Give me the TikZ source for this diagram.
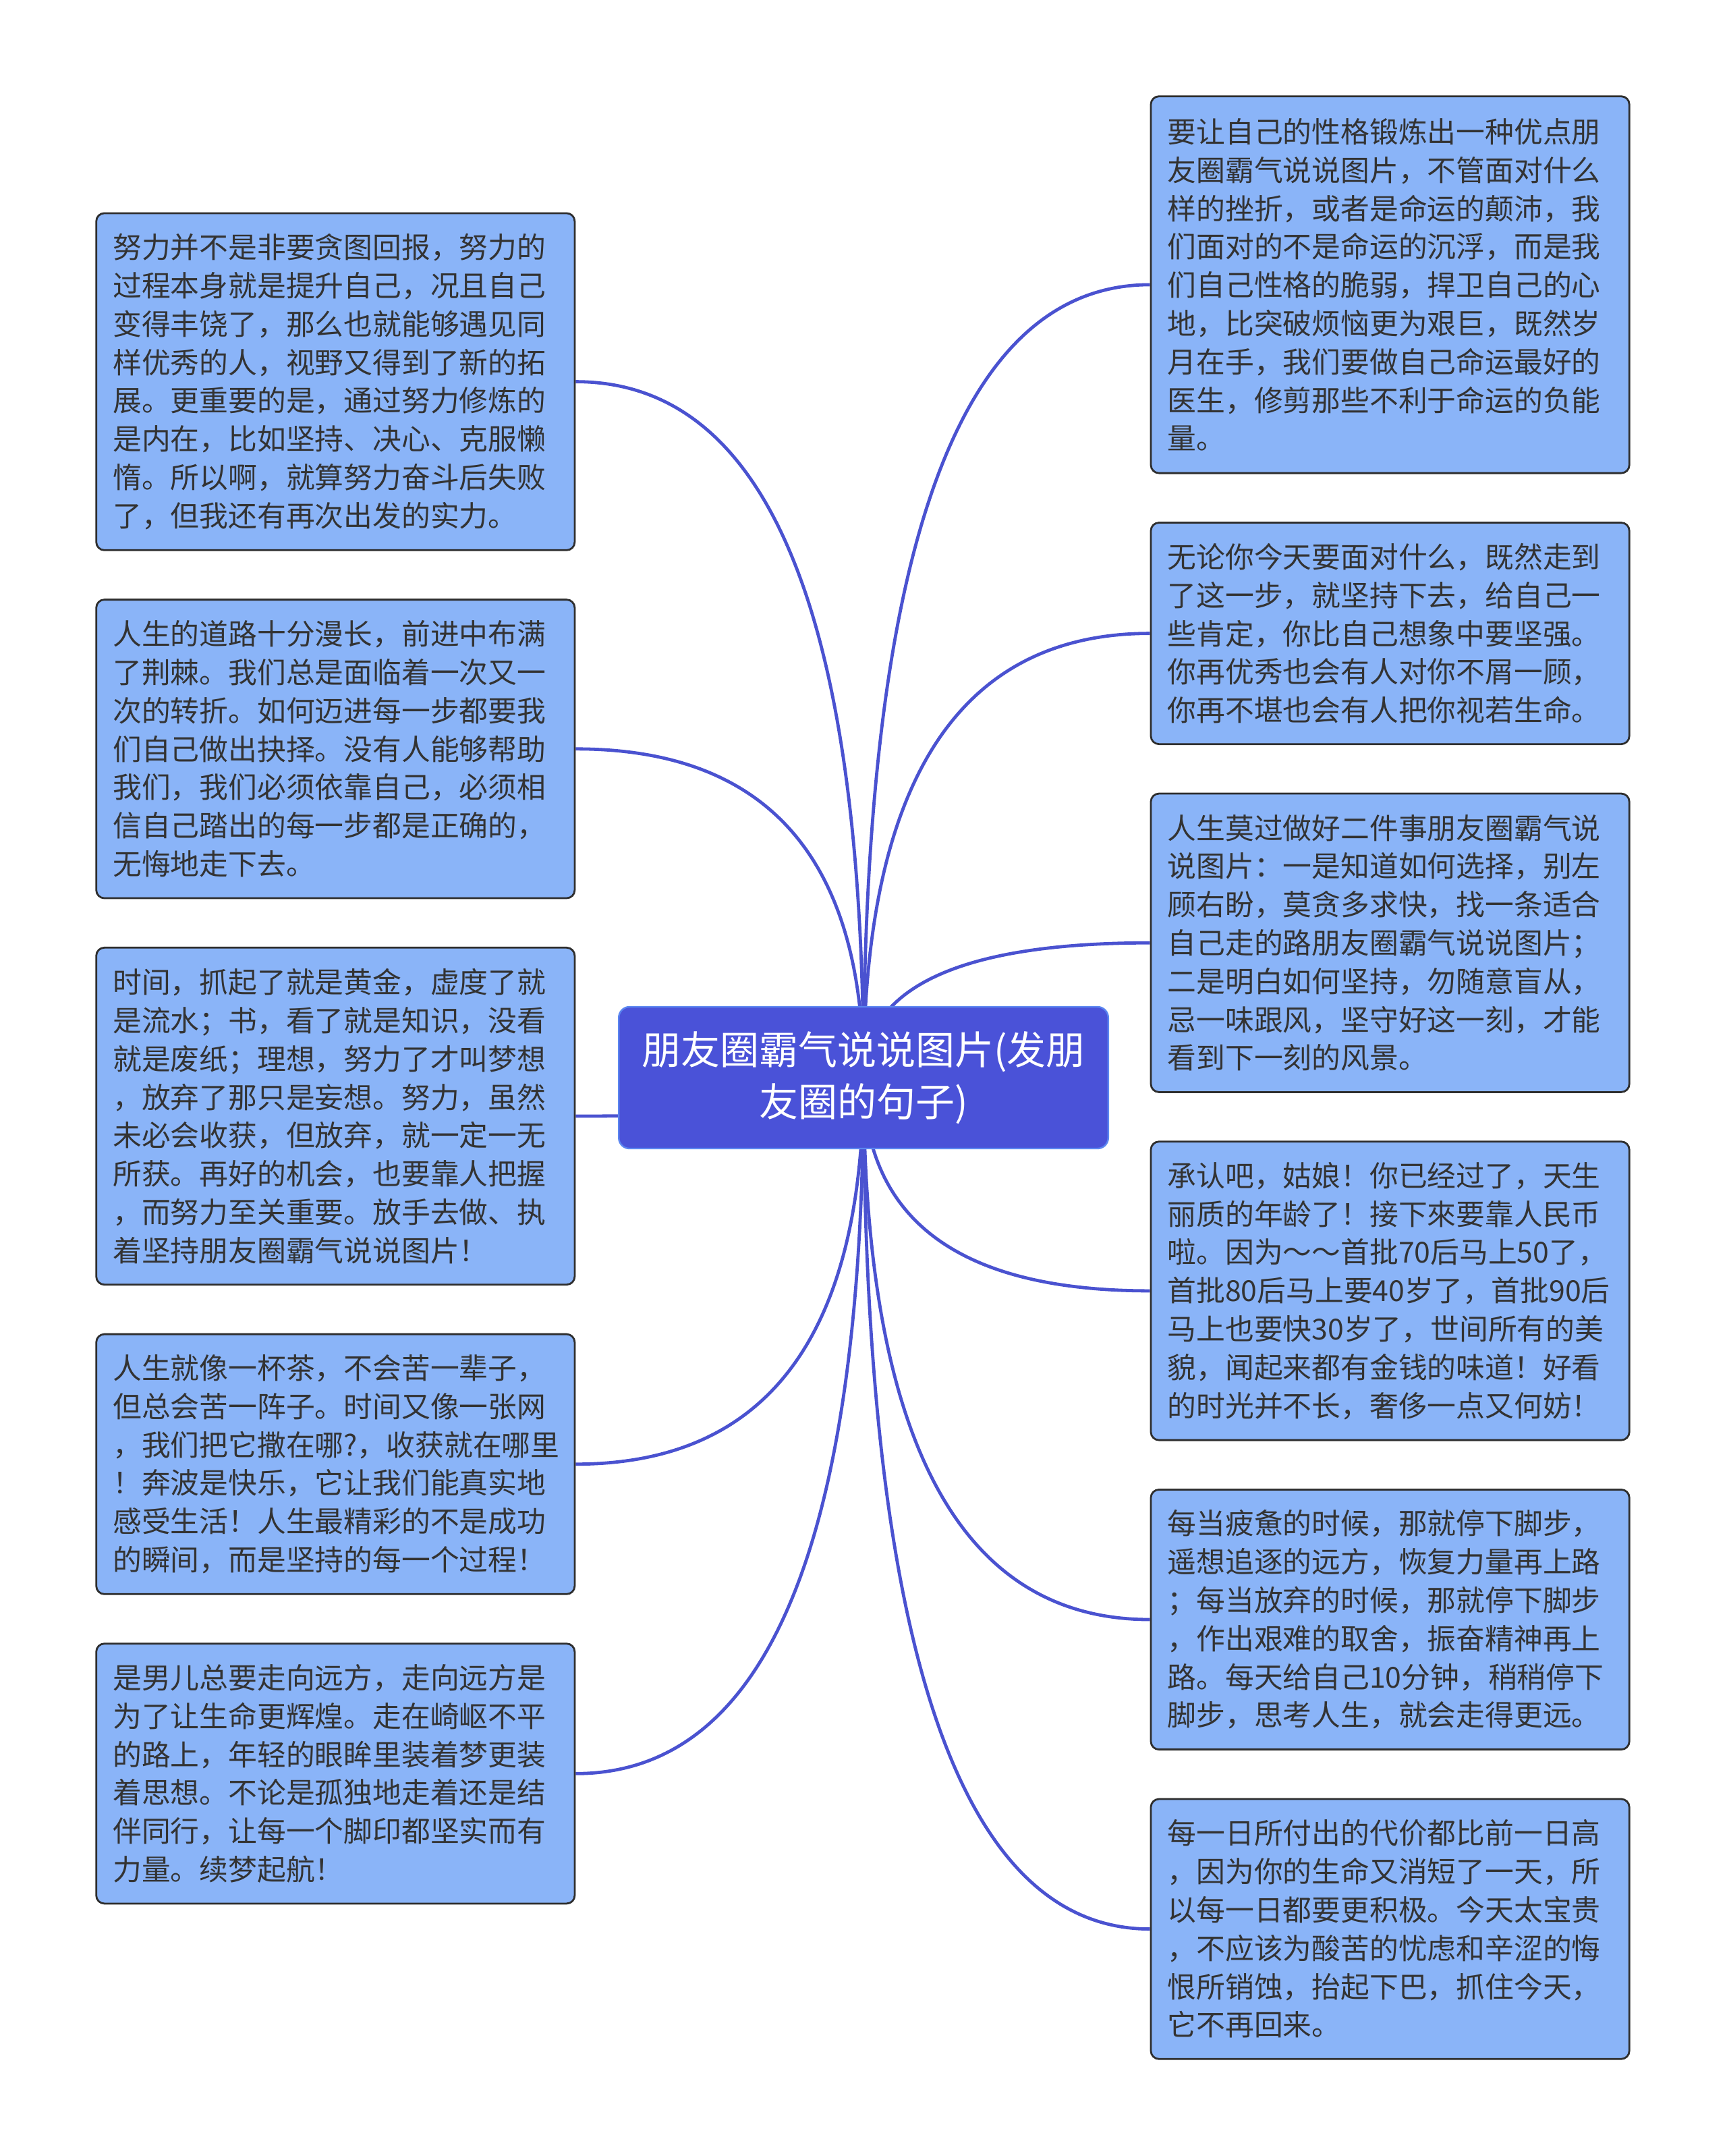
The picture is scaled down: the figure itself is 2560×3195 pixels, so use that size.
\documentclass[tikz,border=0pt]{standalone}
\usepackage{fontspec}
\newfontfamily\cjk{Noto Sans CJK SC}
\usetikzlibrary{calc}
\definecolor{leaffill}{HTML}{8AB4F8}
\definecolor{leafline}{HTML}{2E2E2E}
\definecolor{leaftext}{HTML}{333333}
\definecolor{rootfill}{HTML}{4A52D8}
\definecolor{rootline}{HTML}{5B86F0}
\definecolor{linkcol}{HTML}{4A52D0}
\pgfdeclarelayer{bg}
\pgfsetlayers{bg,main}
\begin{document}
\begin{tikzpicture}[x=0.25pt,y=-0.25pt,
  leaf/.style={draw=leafline, line width=0.7pt, fill=leaffill, rounded corners=3pt,
    text width=165pt, inner xsep=6.15pt, inner ysep=0pt, align=left, text=leaftext,
    font=\cjk\fontsize{10.7pt}{14.2pt}\selectfont},
  root/.style={draw=rootline, line width=0.6pt, fill=rootfill, rounded corners=4pt,
    minimum width=181.4pt, minimum height=52.5pt, align=center, text=white,
    font=\cjk\fontsize{14.5pt}{19.2pt}\selectfont},
  link/.style={draw=linkcol, line width=1.2pt}]
\useasboundingbox (0,0) rectangle (2560,3195);

\node[root] (c) at (1280,1597) {朋友圈霸气说说图片(发朋\\友圈的句子)};

\node[leaf, minimum height=124.85pt] (l1) at (497.3,565.6) {努力并不是非要贪图回报，努力的\\过程本身就是提升自己，况且自己\\变得丰饶了，那么也就能够遇见同\\样优秀的人，视野又得到了新的拓\\展。更重要的是，通过努力修炼的\\是内在，比如坚持、决心、克服懒\\惰。所以啊，就算努力奋斗后失败\\了，但我还有再次出发的实力。};
\node[leaf, minimum height=110.6pt] (l2) at (497.3,1109.8) {人生的道路十分漫长，前进中布满\\了荆棘。我们总是面临着一次又一\\次的转折。如何迈进每一步都要我\\们自己做出抉择。没有人能够帮助\\我们，我们必须依靠自己，必须相\\信自己踏出的每一步都是正确的，\\无悔地走下去。};
\node[leaf, minimum height=124.85pt] (l3) at (497.3,1654) {时间，抓起了就是黄金，虚度了就\\是流水；书，看了就是知识，没看\\就是废纸；理想，努力了才叫梦想\\，放弃了那只是妄想。努力，虽然\\未必会收获，但放弃，就一定一无\\所获。再好的机会，也要靠人把握\\，而努力至关重要。放手去做、执\\着坚持朋友圈霸气说说图片！};
\node[leaf, minimum height=96.3pt] (l4) at (497.3,2169.7) {人生就像一杯茶，不会苦一辈子，\\但总会苦一阵子。时间又像一张网\\，我们把它撒在哪?，收获就在哪里\\！奔波是快乐，它让我们能真实地\\感受生活！人生最精彩的不是成功\\的瞬间，而是坚持的每一个过程！};
\node[leaf, minimum height=96.3pt] (l5) at (497.3,2628.3) {是男儿总要走向远方，走向远方是\\为了让生命更辉煌。走在崎岖不平\\的路上，年轻的眼眸里装着梦更装\\着思想。不论是孤独地走着还是结\\伴同行，让每一个脚印都坚实而有\\力量。续梦起航！};

\node[leaf, minimum height=139.6pt] (r1) at (2060.6,421.9) {要让自己的性格锻炼出一种优点朋\\友圈霸气说说图片，不管面对什么\\样的挫折，或者是命运的颠沛，我\\们面对的不是命运的沉浮，而是我\\们自己性格的脆弱，捍卫自己的心\\地，比突破烦恼更为艰巨，既然岁\\月在手，我们要做自己命运最好的\\医生，修剪那些不利于命运的负能\\量。};
\node[leaf, minimum height=82.05pt] (r2) at (2060.6,938.6) {无论你今天要面对什么，既然走到\\了这一步，就坚持下去，给自己一\\些肯定，你比自己想象中要坚强。\\你再优秀也会有人对你不屑一顾，\\你再不堪也会有人把你视若生命。};
\node[leaf, minimum height=110.6pt] (r3) at (2060.6,1397.2) {人生莫过做好二件事朋友圈霸气说\\说图片：一是知道如何选择，别左\\顾右盼，莫贪多求快，找一条适合\\自己走的路朋友圈霸气说说图片；\\二是明白如何坚持，勿随意盲从，\\忌一味跟风，坚守好这一刻，才能\\看到下一刻的风景。};
\node[leaf, minimum height=110.6pt] (r4) at (2060.6,1912.9) {承认吧，姑娘！你已经过了，天生\\丽质的年龄了！接下來要靠人民币\\啦。因为～～首批70后马上50了，\\首批80后马上要40岁了，首批90后\\马上也要快30岁了，世间所有的美\\貌，闻起来都有金钱的味道！好看\\的时光并不长，奢侈一点又何妨！};
\node[leaf, minimum height=96.3pt] (r5) at (2060.6,2400) {每当疲惫的时候，那就停下脚步，\\遥想追逐的远方，恢复力量再上路\\；每当放弃的时候，那就停下脚步\\，作出艰难的取舍，振奋精神再上\\路。每天给自己10分钟，稍稍停下\\脚步，思考人生，就会走得更远。};
\node[leaf, minimum height=96.3pt] (r6) at (2060.6,2858.6) {每一日所付出的代价都比前一日高\\，因为你的生命又消短了一天，所\\以每一日都要更积极。今天太宝贵\\，不应该为酸苦的忧虑和辛涩的悔\\恨所销蚀，抬起下巴，抓住今天，\\它不再回来。};

\begin{pgfonlayer}{bg}
\foreach \n in {l1,l2,l3,l4,l5}
  \draw[link] (c.center) .. controls ($(c.center)!0.6667!(c.center |- \n.east)$)
    and ($(\n.east)!0.6667!(c.center |- \n.east)$) .. (\n.east);
\foreach \n in {r1,r2,r3,r4,r5,r6}
  \draw[link] (c.center) .. controls ($(c.center)!0.6667!(c.center |- \n.west)$)
    and ($(\n.west)!0.6667!(c.center |- \n.west)$) .. (\n.west);
\end{pgfonlayer}
\end{tikzpicture}
\end{document}
